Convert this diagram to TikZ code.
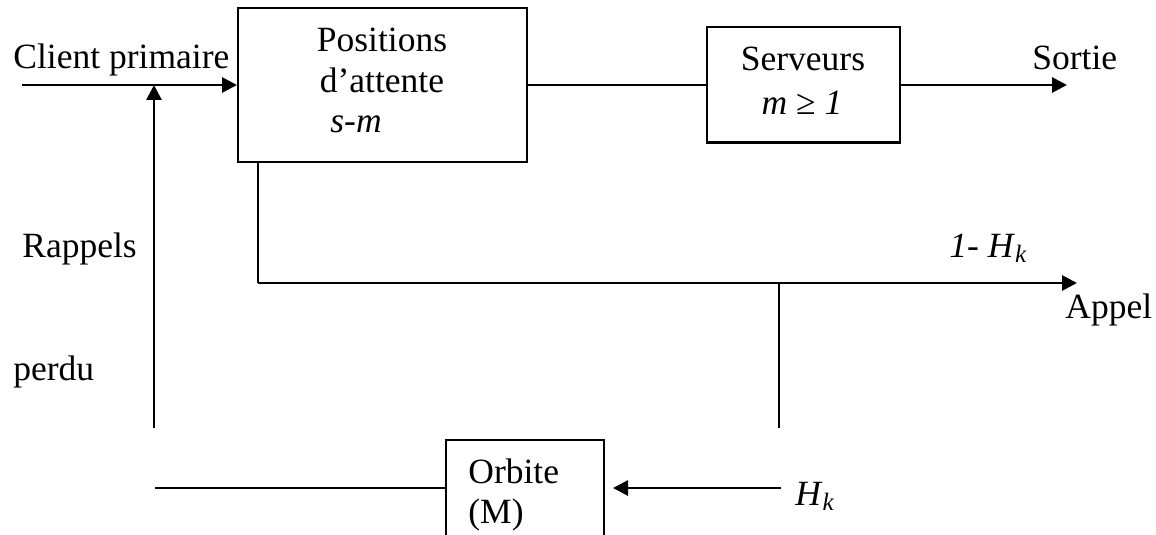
\documentclass[tikz,border=0pt]{standalone}
\usepackage{fontspec}
\setmainfont{Liberation Serif}
\usetikzlibrary{arrows.meta}
\begin{document}
\begin{tikzpicture}[x=0.5pt,y=-0.5pt,
  txt/.style={inner sep=0pt, anchor=base west, font=\fontsize{17.75}{20.5}\selectfont},
  ctxt/.style={txt, anchor=base},
  boxn/.style={draw, line width=1pt, inner sep=0pt},
  arr/.style={line width=1.4pt, -{Triangle[length=7.5pt,width=7.5pt]}},
  ln/.style={line width=1pt},
  thk/.style={line width=1.4pt}]
\useasboundingbox (0,0) rectangle (1156,535);
\clip (0,0) rectangle (1156,535);
% boxes
\node[boxn, minimum width=144.5pt, minimum height=77pt] (pos) at (382.5,85) {};
\node[boxn, minimum width=96.5pt, minimum height=57.5pt] (srv) at (803.5,85) {};
\node[boxn, minimum width=79pt, minimum height=60pt] (orb) at (525,500) {};
% texts
\node[txt] (client) at (13,69) {Client primaire};
\node[ctxt] (pos1) at (382,52) {Positions};
\node[ctxt] (pos2) at (382,93) {d’attente};
\node[txt] (pos3) at (330,133) {\textit{s-m}};
\node[ctxt] (srv1) at (803,71) {Serveurs};
\node[ctxt] (srv2) at (802,115) {\textit{m} ≥ \textit{1}};
\node[txt] (sortie) at (1032,70) {Sortie};
\node[txt] (rappels) at (22,257) {Rappels};
\node[txt] (perdu) at (13,380) {perdu};
\node[txt] (unmh) at (949,257) {\textit{1- H}\raisebox{-2.5pt}{\fontsize{12.5}{12.5}\selectfont\textit{k}}};
\node[txt] (appel) at (1065,318) {Appel};
\node[txt] (orb1) at (468,483) {Orbite};
\node[txt] (orb2) at (468,523) {(M)};
\node[txt] (hk) at (795,505) {\textit{H}\raisebox{-2.5pt}{\fontsize{12.5}{12.5}\selectfont\textit{k}}};
% coordinates
\coordinate (cstart) at (22,85);
\coordinate (rapB) at (154,428);
\coordinate (rapT) at (154,85);
\coordinate (sortieEnd) at (1067,85);
\coordinate (j1) at (258,283);
\coordinate (appelEnd) at (1077,283);
\coordinate (j2) at (779,283);
\coordinate (j2b) at (779,428);
\coordinate (orbL) at (155,488);
\coordinate (hkstart) at (781,488);
\coordinate (hkend) at (613,488);
% connectors
\draw[arr] (cstart) -- (pos.west);
\draw[arr] (rapB) -- (rapT);
\draw[ln] (pos.east) -- (srv.west);
\draw[arr] (srv.east) -- (sortieEnd);
\draw[ln] (j1 |- pos.south) -- (j1);
\draw[arr] (j1) -- (appelEnd);
\draw[ln] (j2) -- (j2b);
\draw[thk] (orbL) -- (orbL -| orb.west);
\draw[arr] (hkstart) -- (hkend);
\end{tikzpicture}
\end{document}
